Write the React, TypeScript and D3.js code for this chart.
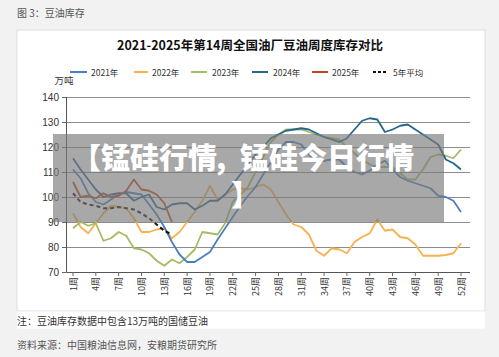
import React from "react";
import * as d3 from "d3";

const weeks = [1,2,3,4,5,6,7,8,9,10,11,12,13,14,15,16,17,18,19,20,21,22,23,24,25,26,27,28,29,30,31,32,33,34,35,36,37,38,39,40,41,42,43,44,45,46,47,48,49,50,51,52];
const tickWeeks = [1,4,7,10,13,16,19,22,25,28,31,34,37,40,43,46,49,52];
const yTicks = [70,80,90,100,110,120,130,140];

const s2021 = [111,107.5,101.5,98,97,99,101,102,101.5,101,97,93,88,82,77,74,74,76,78,83,87.5,92,96.5,100.5,104,109,114,119,122,122,121,117,114,114.5,115,115,112,110,109,110.5,113,114.5,111,108,106.5,105.5,104.5,103.5,100.5,100,98.5,94];
const s2022 = [93.5,88,85.5,89.5,93.5,96.5,96,95.5,91.5,86,86,87,87.5,83.5,86,90,94,98.5,104.5,99,101,103,103.5,103,104,105,103,98,93,89,88,85,78.5,76.5,79.5,79,77.5,82,84,85.5,91,86.5,87,84,83.5,81,76.5,76.5,76.5,76.8,77.5,81.5];
const s2023 = [87.5,90,88.5,89.5,82.5,83.5,86,84.5,79.5,79,77.5,74.5,72.5,75,73.5,76,79,86,85.5,85,89.5,98,101,104,110,116,122,125,127,127,127,126,125,124,123.5,123,120,117.5,115,113,112,112,112,109.5,107,107,111,116,117,116.5,115.5,119];
const s2024 = [115.5,111,107,103,100,101,101.5,101.5,98.5,100,101,96,95,97,97.5,97.5,95,96.5,98.5,98.5,101,105,109,113,117,120,123.5,125,126.5,127,127.5,127,125.5,124,123,122,123.5,127,130.5,131.5,131,126,127,128.5,129,127,125,123,121,115,113.5,111];
const s2025 = [106,100,100.5,99.5,101.5,100,100.5,102.5,107,103,102.5,101,97.5,90];
const sAvg = [101.5,98,97,96.5,95.5,95.5,96,95.5,95,93.5,91.5,89,86.5,85];

const seriesNames = ["2021年","2022年","2023年","2024年","2025年","5年平均"];
const seriesColors = ["#4a7fc1","#f6b24e","#a5bb64","#27668f","#c2451c","#111111"];
const seriesData = [s2021, s2022, s2023, s2024, s2025, sAvg];
const drawOrder = [1, 2, 0, 3, 4, 5];

const legendPos = [
  { x1: 70, x2: 87, tx: 91 },
  { x1: 134, x2: 148, tx: 152 },
  { x1: 191, x2: 207, tx: 212 },
  { x1: 252, x2: 268, tx: 273 },
  { x1: 312, x2: 328, tx: 332 },
  { x1: 373, x2: 388, tx: 393 },
];

const CJK = "'Noto Sans CJK SC', 'Noto Sans', sans-serif";
const SANS = "'Liberation Sans', Arial, 'Noto Sans CJK SC', sans-serif";

export default function App() {
  const W = 499, H = 357;
  const x = d3.scalePoint<number>().domain(weeks).range([73, 461]);
  const y = d3.scaleLinear().domain([70, 140]).range([272, 97]);
  const plotL = 66.5, plotR = 470;

  const line = d3.line<number>()
    .x((_, i) => x(weeks[i]) as number)
    .y((d) => y(d));

  return (
    <svg width={W} height={H} style={{ position: "absolute", left: 0, top: 0, display: "block" }}>
      <rect x={0} y={0} width={W} height={H} fill="#f2f2f2" />
      <text x={17} y={17} fontFamily={CJK} fontSize={10} fill="#555">图 3：豆油库存</text>

      <rect x={17} y={30} width={468} height={281} fill="#ffffff" stroke="#dddddd" strokeWidth={1} />
      <rect x={17} y={311.5} width={468} height={17} fill="#ffffff" />

      <text x={250} y={50} textAnchor="middle" fontFamily={CJK} fontWeight={700} fontSize={12.5} fill="#111">
        2021-2025年第14周全国油厂豆油周度库存对比
      </text>

      {seriesNames.map((n, i) => (
        <g key={n}>
          <line x1={legendPos[i].x1} x2={legendPos[i].x2} y1={72} y2={72}
            stroke={seriesColors[i]} strokeWidth={2}
            strokeDasharray={i === 5 ? "3,2" : undefined} />
          <text x={legendPos[i].tx} y={75.5} fontFamily={CJK} fontSize={8.5} fill="#333">{n}</text>
        </g>
      ))}

      <text x={64} y={84} textAnchor="middle" fontFamily={CJK} fontSize={9.5} fill="#333">万吨</text>

      {yTicks.map((t) => (
        <g key={t}>
          <line x1={plotL} x2={plotR} y1={Math.round(y(t)) + 0.5} y2={Math.round(y(t)) + 0.5} stroke="#8c8c8c" strokeWidth={1} />
          <line x1={62} x2={plotL} y1={Math.round(y(t)) + 0.5} y2={Math.round(y(t)) + 0.5} stroke="#666" strokeWidth={1} />
          <text x={59} y={y(t) + 3.5} textAnchor="end" fontFamily={SANS} fontSize={10} fill="#333">{t}</text>
        </g>
      ))}
      <line x1={plotL} x2={plotL} y1={97} y2={272} stroke="#555" strokeWidth={1} />
      <line x1={plotL} x2={plotR} y1={272.5} y2={272.5} stroke="#555" strokeWidth={1} />

      {tickWeeks.map((w) => {
        const xx = x(w) as number;
        return (
          <g key={w}>
            <line x1={xx} x2={xx} y1={272} y2={276} stroke="#666" strokeWidth={1} />
            <text transform={`translate(${xx + 3.5},277) rotate(-90)`} textAnchor="end"
              fontFamily={CJK} fontSize={9} fill="#333">{w}周</text>
          </g>
        );
      })}

      {drawOrder.map((i) => (
        <path key={seriesNames[i]} d={line(seriesData[i]) || ""} fill="none"
          stroke={seriesColors[i]} strokeWidth={i === 5 ? 2 : 1.8}
          strokeLinejoin="round"
          strokeDasharray={i === 5 ? "4,3" : undefined} />
      ))}

      <rect x={53} y={134} width={391} height={88} fill="#7a7a7a" opacity={0.65} />
      <text y={169} fontFamily={CJK} fontWeight={900} fontSize={29} fill="#ffffff">
        <tspan x={72}>【锰硅行情</tspan>
        <tspan x={216}>,</tspan>
        <tspan x={240}>锰硅今日行情</tspan>
      </text>
      <text x={231} y={206} fontFamily={CJK} fontWeight={900} fontSize={29} fill="#ffffff">】</text>

      <text x={17} y={325} fontFamily={CJK} fontSize={10} fill="#333">注：豆油库存数据中包含13万吨的国储豆油</text>
      <text x={17} y={349} fontFamily={CJK} fontSize={10} fill="#555">资料来源：中国粮油信息网，安粮期货研究所</text>
    </svg>
  );
}
